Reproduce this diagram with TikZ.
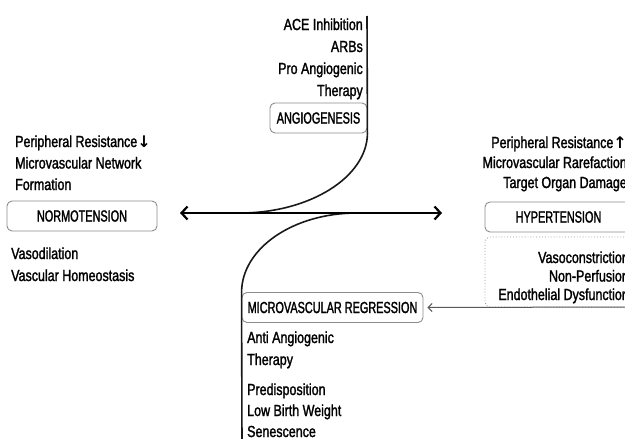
\documentclass[tikz,border=0pt]{standalone}
\usepackage{fontspec}
\setmainfont{Liberation Sans}[FakeStretch=0.78, FakeBold=1.6]
\newfontfamily\boxfont{Liberation Sans}[FakeStretch=0.68, FakeBold=1.6]
\newfontfamily\arrowfont{DejaVu Sans}
\usetikzlibrary{arrows.meta}
\usetikzlibrary{positioning}

\tikzset{
  statebox/.style={draw=black!45, rounded corners=5pt, line width=0.9pt,
    text=black, inner sep=0pt, minimum height=30pt,
    font=\boxfont\fontsize{16}{18}\selectfont},
  note/.style={text=black, inner sep=0pt,
    font=\fontsize{16}{21.5}\selectfont},
  branch/.style={line width=1.6pt, black!90},
  mainarrow/.style={line width=2.2pt,
    arrows={Straight Barb[length=6pt,width=13pt]-Straight Barb[length=6pt,width=13pt]}},
  feedarrow/.style={line width=1pt, black!65,
    arrows={-Straight Barb[length=4pt,width=8pt]}}
}
\newcommand{\resdown}{{\arrowfont\bfseries ↓}}
\newcommand{\resup}{{\arrowfont\bfseries ↑}}

\begin{document}
\begin{tikzpicture}[x=1pt, y=-1pt]
  \useasboundingbox (0,0) rectangle (625,439);
  \clip (0,0) rectangle (625,439);

  % boxes
  \node[statebox, minimum width=97pt]  (angio)   at (318.5,118) {ANGIOGENESIS};
  \node[statebox, minimum width=150pt] (normo)   at (82,216)    {NORMOTENSION};
  \node[statebox, minimum width=147pt] (hyper)   at (558.5,217) {HYPERTENSION};
  \node[statebox, minimum width=181pt] (regress) at (332.5,307.5) {MICROVASCULAR REGRESSION};
  \node[draw=black!40, dotted, line width=0.9pt, rounded corners=5pt,
        minimum width=147pt, minimum height=70pt] (signs) at (558.5,272) {};

  % texts (anchored on the baseline of their last line)
  \node[note, anchor=base east, align=right, font=\fontsize{16}{22}\selectfont] (angiotxt) at (363,96)
    {ACE Inhibition\\ARBs\\Pro Angiogenic\\Therapy};
  \node[note, anchor=base west, align=left] (normotop) at (15,190)
    {Peripheral Resistance\resdown\\Microvascular Network\\Formation};
  \node[note, anchor=base west, align=left, font=\fontsize{16}{22}\selectfont] (normobot) at (11,281)
    {Vasodilation\\Vascular Homeostasis};
  \node[note, anchor=base east, align=right, font=\fontsize{16}{20}\selectfont] (hypertop) at (627,188)
    {Peripheral Resistance\resup\\Microvascular Rarefaction\\Target Organ Damage};
  \node[note, anchor=base east, align=right, font=\fontsize{16}{18.5}\selectfont] (signstxt) at (629,300)
    {Vasoconstriction\\Non-Perfusion\\Endothelial Dysfunction};
  \node[note, anchor=base west, align=left, font=\fontsize{16}{22}\selectfont] (antitxt) at (247,365)
    {Anti Angiogenic\\Therapy};
  \node[note, anchor=base west, align=left, font=\fontsize{16}{21}\selectfont] (predtxt) at (247,437)
    {Predisposition\\Low Birth Weight\\Senescence};

  % connectors
  \coordinate (tipL)  at (180,213);
  \coordinate (tipR)  at (442,213);
  \coordinate (meetL) at (240,213);
  \coordinate (meetR) at (357,213);
  \coordinate (vtop)  at (367,16);
  \coordinate (vbot)  at (242,445);
  \coordinate (feed)  at (640,307);

  \draw[branch] (vtop) -- (angio.south east)
    .. controls (367,177) and (310,213) .. (meetL);
  \draw[branch] (meetR) .. controls (293.5,213) and (242,248) .. (regress.north west) -- (vbot);
  \draw[mainarrow] (tipL) -- (tipR);
  \draw[feedarrow, shorten >=4pt] (feed) -- (regress.east);
\end{tikzpicture}
\end{document}
